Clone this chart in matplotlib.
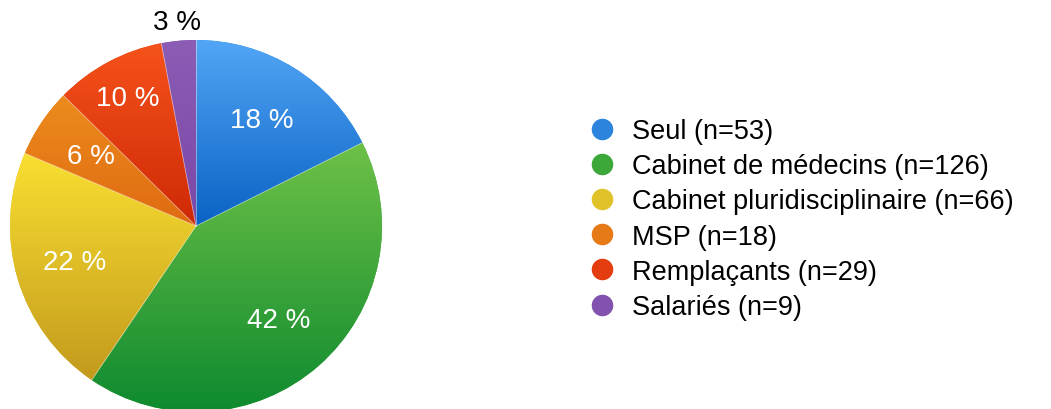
import numpy as np
import matplotlib.pyplot as plt
from matplotlib.colors import LinearSegmentedColormap
from matplotlib.lines import Line2D

# Data
categories = ['Seul', 'Cabinet de médecins', 'Cabinet pluridisciplinaire',
              'MSP', 'Remplaçants', 'Salariés']
counts = [53, 126, 66, 18, 29, 9]

# gradient colours (top, bottom) per wedge
top_colors = ['#52A6F6', '#6EC147', '#F9DF31', '#EC8C1D', '#F6521B', '#8B5DB4']
bot_colors = ['#0A62C3', '#0E8A2F', '#C39A1D', '#DF6A12', '#CE2905', '#7A47A8']
mid_colors = ['#2C84DD', '#3DA83A', '#E0C22A', '#E67A16', '#E33D10', '#8152AE']
label_dist = [0.67, 0.67, 0.68, 0.68, 0.78, 1.10]

plt.rcParams['font.family'] = ['Liberation Sans', 'DejaVu Sans']

W, H = 1051, 410
fig = plt.figure(figsize=(W / 100, H / 100), dpi=100)
ax = fig.add_axes([0, 0, 1, 1])

cx, cy, R = 196, 183, 186
wedges, _ = ax.pie(counts, colors=mid_colors, startangle=90, counterclock=False,
                   center=(cx, cy), radius=R,
                   wedgeprops=dict(edgecolor='none', linewidth=0))

# vertical gradient inside each wedge
grad = np.linspace(0, 1, 256).reshape(-1, 1)
for w, c_top, c_bot in zip(wedges, top_colors, bot_colors):
    bb = w.get_path().get_extents()
    cmap = LinearSegmentedColormap.from_list('g', [c_top, c_bot])
    im = ax.imshow(grad, cmap=cmap, aspect='auto', origin='upper',
                   extent=(bb.x0, bb.x1, bb.y0, bb.y1), zorder=w.get_zorder() + 0.1,
                   interpolation='bilinear')
    im.set_clip_path(w)

# thin light separators
for w in wedges:
    a = np.deg2rad(w.theta1)
    ax.plot([cx, cx + R * np.cos(a)], [cy, cy + R * np.sin(a)],
            color='white', lw=0.6, alpha=0.5, zorder=3)

total = sum(counts)
for w, n, d in zip(wedges, counts, label_dist):
    a = np.deg2rad((w.theta1 + w.theta2) / 2)
    pct = round(100 * n / total)
    col = 'white' if d < 1 else 'black'
    ax.text(cx + d * R * np.cos(a), cy + d * R * np.sin(a), f'{pct} %',
            ha='center', va='center', fontsize=20, color=col, zorder=5)

handles = [Line2D([], [], marker='o', linestyle='none', markersize=14.5,
                  markerfacecolor=c, markeredgecolor=c) for c in mid_colors]
labels = [f'{c} (n={n})' for c, n in zip(categories, counts)]
ax.legend(handles, labels, loc='center left', bbox_to_anchor=(591, 190),
          bbox_transform=ax.transData, frameon=False, fontsize=19.5,
          borderpad=0, handlelength=0.8, handletextpad=0.72, labelspacing=0.34,
          borderaxespad=0)

ax.set_xlim(0, W)
ax.set_ylim(0, H)
ax.set_aspect('equal')
ax.axis('off')

fig.savefig('out.png', dpi=100)
